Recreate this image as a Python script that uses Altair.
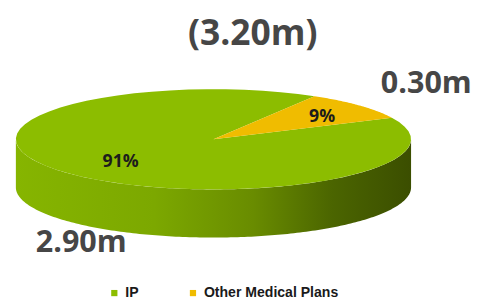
import altair as alt
import pandas as pd

# ---- data ----
categories = ["IP", "Other Medical Plans"]
values = [2.90, 0.30]          # millions
colors = ["#8cbd00", "#f0bc00"]
total_label = f"({sum(values):.2f}m)"

# ---- layout / style parameters ----
START_DEG = 25.5      # rotation of first slice (clockwise from here)
DEPTH = 0.96          # 3-D wall thickness in ellipse units
FONT = "Open Sans"
W, H = 473, 296
xs = alt.Scale(domain=[-1.0398, -1.0398 + W / 201], nice=False, zero=False)
ys = alt.Scale(domain=[2.5686 - H / 51, 2.5686], nice=False, zero=False)

df = pd.DataFrame({"category": categories, "value": values})

base = (
    alt.Chart(df)
    .transform_joinaggregate(total="sum(value)")
    .transform_window(cum="sum(value)", frame=[None, 0])
    .transform_calculate(
        a0=f"{START_DEG}*PI/180 - 2*PI*(datum.cum - datum.value)/datum.total",
        a1=f"{START_DEG}*PI/180 - 2*PI*datum.cum/datum.total",
    )
    .transform_calculate(mid="(datum.a0 + datum.a1)/2")
)

# side wall of the 3-D pie (front half of the ellipse, extruded down)
side = (
    alt.Chart(alt.sequence(0, 181, as_="k"))
    .transform_calculate(t="PI + PI*datum.k/180")
    .transform_calculate(sx="cos(datum.t)", sy="sin(datum.t)")
    .transform_calculate(sy2=f"datum.sy - {DEPTH}")
    .mark_area(
        color=alt.Gradient(
            gradient="linear",
            stops=[
                alt.GradientStop(color="#86b500", offset=0),
                alt.GradientStop(color="#7ca800", offset=0.35),
                alt.GradientStop(color="#698c00", offset=0.6),
                alt.GradientStop(color="#4b6500", offset=0.8),
                alt.GradientStop(color="#3b4e00", offset=1),
            ],
            x1=0, x2=1, y1=0, y2=0,
        )
    )
    .encode(
        x=alt.X("sx:Q", scale=xs, axis=None),
        y=alt.Y("sy:Q", scale=ys, axis=None),
        y2="sy2:Q",
    )
)

# top face slices as filled polygons
slices = (
    base.transform_calculate(pts="sequence(0, 63)")
    .transform_flatten(["pts"])
    .transform_calculate(t="datum.a0 + (datum.a1 - datum.a0)*(datum.pts - 1)/60")
    .transform_calculate(
        px="(datum.pts == 0 || datum.pts == 62) ? 0 : cos(datum.t)",
        py="(datum.pts == 0 || datum.pts == 62) ? 0 : sin(datum.t)",
    )
    .mark_line(filled=True, strokeWidth=0.5)
    .encode(
        x=alt.X("px:Q", scale=xs, axis=None),
        y=alt.Y("py:Q", scale=ys, axis=None),
        color=alt.Color(
            "category:N",
            scale=alt.Scale(domain=categories, range=colors),
            sort=categories,
            legend=alt.Legend(
                title=None,
                orient="none",
                direction="horizontal",
                legendX=101,
                legendY=280,
                symbolType="square",
                symbolSize=40,
                symbolStrokeWidth=0,
                labelFont="Liberation Sans",
                labelFontWeight="bold",
                labelFontSize=14.3,
                labelColor="#1a1a1a",
                labelOffset=4,
                columnPadding=48,
                padding=0,
            ),
        ),
        order="pts:Q",
    )
)

pct = (
    base.transform_calculate(
        lx="0.69*cos(datum.mid)",
        ly="0.67*sin(datum.mid)",
        pct="format(round(100*datum.value/datum.total), 'd') + '%'",
    )
    .mark_text(font=FONT, fontSize=18, fontWeight="bold", color="#1c1c1c",
               baseline="middle", dx=8)
    .encode(
        x=alt.X("lx:Q", scale=xs, axis=None),
        y=alt.Y("ly:Q", scale=ys, axis=None),
        text="pct:N",
    )
)

vlab = base.transform_calculate(
    lx="cos(datum.mid)",
    ly="sin(datum.mid)",
    lab="format(datum.value, '.2f') + 'm'",
)
vtext_enc = dict(
    x=alt.X("lx:Q", scale=xs, axis=None),
    y=alt.Y("ly:Q", scale=ys, axis=None),
    text="lab:N",
)
lab_small = (
    vlab.transform_filter(alt.datum.category == categories[1])
    .mark_text(font=FONT, fontSize=31, fontWeight="bold", color="#464646",
               baseline="alphabetic", dx=68, dy=-13)
    .encode(**vtext_enc)
)
lab_big = (
    vlab.transform_filter(alt.datum.category == categories[0])
    .mark_text(font=FONT, fontSize=31, fontWeight="bold", color="#464646",
               baseline="alphabetic", dx=14, dy=80)
    .encode(**vtext_enc)
)

# total label above the pie (anchored at the top of the ellipse)
total = (
    alt.Chart(pd.DataFrame({"label": [total_label]}))
    .transform_calculate(tx="0", ty="1")
    .mark_text(font=FONT, fontSize=36, fontWeight="bold", color="#464646",
               baseline="alphabetic", dx=40, dy=-45)
    .encode(
        x=alt.X("tx:Q", scale=xs, axis=None),
        y=alt.Y("ty:Q", scale=ys, axis=None),
        text="label:N",
    )
)

chart = (
    alt.layer(side, slices, pct, lab_small, lab_big, total)
    .properties(
        width=W,
        height=H,
        padding=0,
        autosize=alt.AutoSizeParams(type="none"),
        view=alt.ViewBackground(stroke="transparent"),
    )
    .configure_view(stroke="transparent", strokeWidth=0)
    .configure(background="white")
)

chart.save("out.html", embed_options={"renderer": "svg", "actions": False})
